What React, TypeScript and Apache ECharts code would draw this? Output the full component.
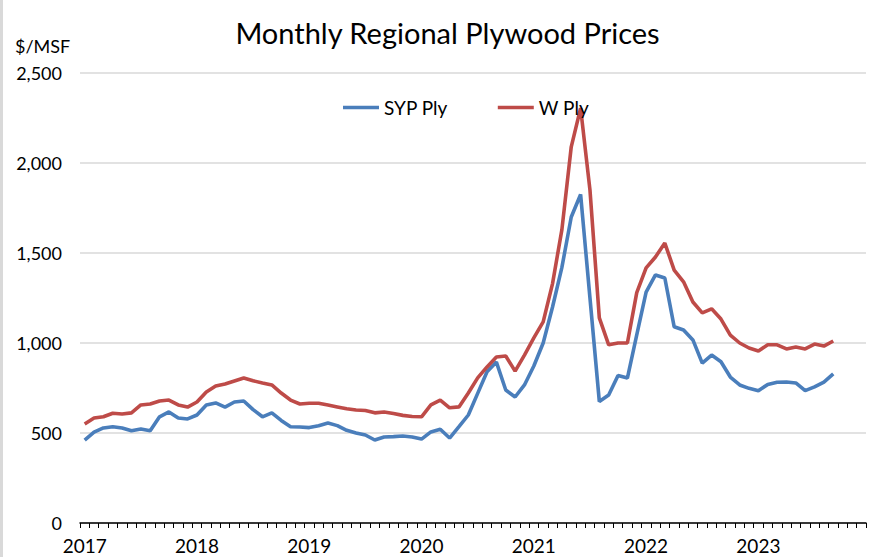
import React, { useEffect, useRef } from "react";
import * as echarts from "echarts";

const years = ["2017", "2018", "2019", "2020", "2021", "2022", "2023"];
const monthNames = ["Jan", "Feb", "Mar", "Apr", "May", "Jun", "Jul", "Aug", "Sep", "Oct", "Nov", "Dec"];
const categories: string[] = years.flatMap((y) => monthNames.map((m) => `${m} ${y}`));

const sypPly = [
  461, 505, 528, 535, 528, 512, 522, 512, 590, 617, 583, 578,
  600, 656, 667, 644, 672, 678, 630, 590, 612, 570, 535, 533,
  530, 540, 555, 541, 515, 500, 489, 461, 478, 480, 483, 478,
  466, 506, 521, 472, 535, 600, 720, 840, 894, 739, 700, 767,
  872, 1000, 1200, 1420, 1700, 1825, 1250, 675, 711, 820, 805, 1045,
  1283, 1378, 1361, 1090, 1072, 1017, 888, 933, 896, 811, 767, 748,
  735, 770, 782, 783, 778, 735, 756, 783, 828,
];

const wPly = [
  550, 583, 590, 610, 606, 612, 656, 661, 678, 683, 656, 644,
  672, 728, 761, 772, 789, 806, 790, 778, 767, 722, 683, 661,
  665, 665, 655, 645, 635, 628, 625, 612, 617, 608, 598, 592,
  590, 656, 683, 640, 645, 722, 806, 867, 922, 928, 844, 933,
  1028, 1117, 1330, 1630, 2090, 2305, 1850, 1140, 990, 1000, 1000, 1280,
  1417, 1478, 1555, 1405, 1340, 1228, 1167, 1190, 1133, 1044, 1000, 972,
  956, 990, 990, 967, 978, 967, 994, 983, 1011,
];

const FONT = "Lato, 'Open Sans', sans-serif";

export default function App() {
  const ref = useRef<HTMLDivElement>(null);
  useEffect(() => {
    if (!ref.current) return;
    const chart = echarts.init(ref.current, null, { renderer: "svg" });
    chart.setOption({
      animation: false,
      backgroundColor: "#ffffff",
      textStyle: { fontFamily: FONT },
      title: {
        text: "Monthly Regional Plywood Prices",
        left: "center",
        top: 13,
        textStyle: { fontFamily: FONT, fontSize: 29, fontWeight: "normal", color: "#000" },
      },
      graphic: [
        { type: "rect", left: 0, top: 0, shape: { width: 3, height: 557 }, style: { fill: "#d9d9d9" } },
        {
          type: "text",
          left: 15,
          top: 37,
          style: { text: "$/MSF", fontFamily: FONT, fontSize: 18, fill: "#000" },
        },
      ],
      legend: {
        left: 338,
        top: 93,
        itemWidth: 36,
        itemHeight: 10,
        itemGap: 50,
        textStyle: { fontFamily: FONT, fontSize: 19, color: "#000" },
        data: [
          { name: "SYP Ply", icon: "path://M0,4 L36,4 L36,7.5 L0,7.5 Z" },
          { name: "W Ply", icon: "path://M0,4 L36,4 L36,7.5 L0,7.5 Z" },
        ],
      },
      grid: { left: 80, right: 29, top: 73, bottom: 34, containLabel: false },
      xAxis: {
        type: "category",
        data: categories,
        boundaryGap: true,
        axisLine: { lineStyle: { color: "#000", width: 1.5 } },
        axisTick: { show: true, interval: 0, length: 5, lineStyle: { color: "#000", width: 1 } },
        axisLabel: {
          interval: (index: number) => index % 12 === 0,
          formatter: (v: string) => v.split(" ")[1],
          fontFamily: FONT,
          fontSize: 19,
          color: "#000",
          margin: 13,
        },
        splitLine: { show: false },
      },
      yAxis: {
        type: "value",
        min: 0,
        max: 2500,
        interval: 500,
        axisLine: { show: false },
        axisTick: { show: false },
        axisLabel: {
          formatter: (v: number) => v.toLocaleString("en-US"),
          fontFamily: FONT,
          fontSize: 18,
          color: "#000",
          margin: 18,
        },
        splitLine: { lineStyle: { color: "#d9d9d9", width: 1.5 } },
      },
      series: [
        {
          name: "SYP Ply",
          type: "line",
          data: sypPly,
          symbol: "none",
          lineStyle: { color: "#4a7ebb", width: 3.6 },
          itemStyle: { color: "#4a7ebb" },
        },
        {
          name: "W Ply",
          type: "line",
          data: wPly,
          symbol: "none",
          lineStyle: { color: "#be4b48", width: 3.6 },
          itemStyle: { color: "#be4b48" },
        },
      ],
    });
    return () => chart.dispose();
  }, []);
  return (
    <div
      ref={ref}
      style={{ position: "fixed", left: 0, top: 0, width: 895, height: 557 }}
    />
  );
}
